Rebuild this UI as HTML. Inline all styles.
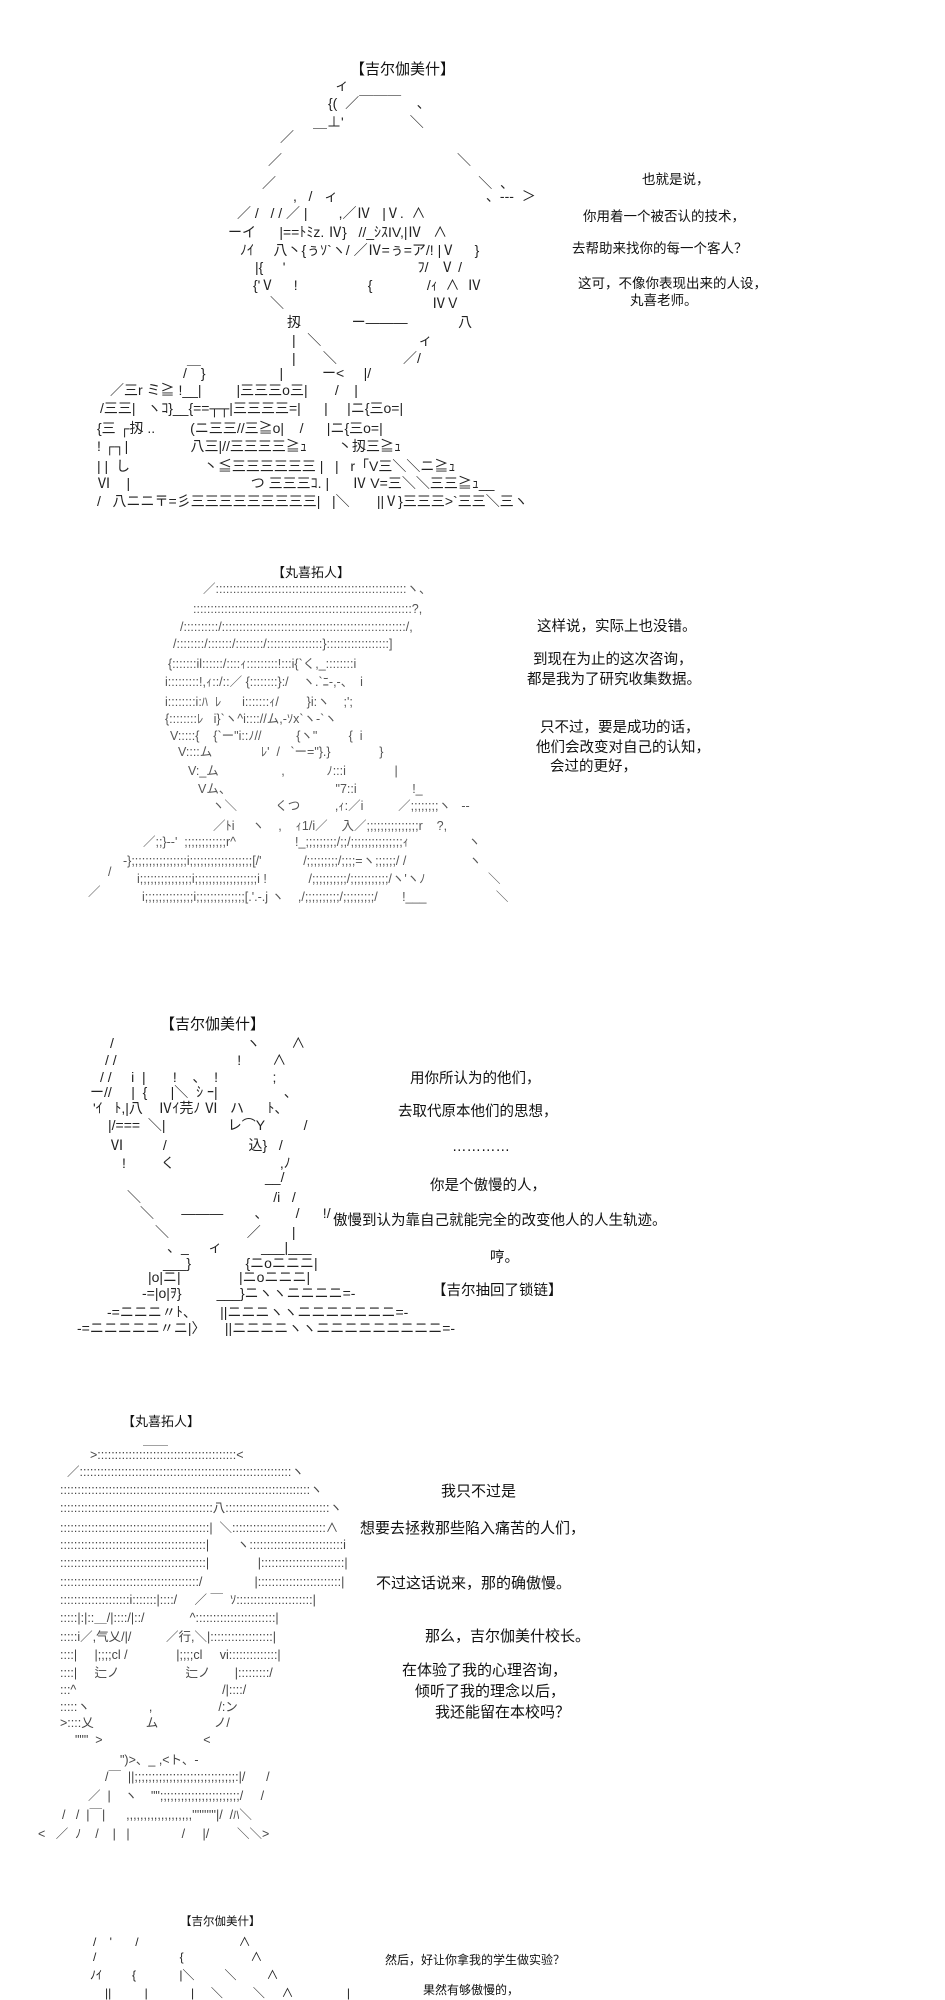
<!DOCTYPE html>
<html><head><meta charset="utf-8">
<style>
html,body{margin:0;padding:0;background:#fff;}
body{width:945px;height:2000px;position:relative;overflow:hidden;color:#111;
font-family:"Liberation Sans","Noto Sans CJK SC","Noto Sans CJK JP",sans-serif;}
.l{position:absolute;white-space:pre;line-height:1;}
.a{font-family:"Liberation Sans","Noto Sans CJK JP",sans-serif;color:#222;}
.s1{font-size:14px}.s2{font-size:12.5px;color:#555}.s3{font-size:14px}.s4{font-size:12.5px;color:#444}.s5{font-size:12px}
.d{font-family:"Liberation Sans","Noto Sans CJK SC",sans-serif;color:#111}
</style></head><body>

<!-- Section 1 -->
<div class="l d" style="left:350px;top:62px;font-size:15px">【吉尔伽美什】</div>
<div class="l a s1" style="left:335px;top:78px">ィ</div>
<div class="l a s1" style="left:328px;top:96px">{(  ／￣￣￣    、</div>
<div class="l a s1" style="left:313px;top:115px">＿⊥'                 ＼</div>
<div class="l a s1" style="left:280px;top:130px">／</div>
<div class="l a s1" style="left:268px;top:153px">／                                             ＼</div>
<div class="l a s1" style="left:262px;top:176px">／                                                    ＼  、</div>
<div class="l a s1" style="left:293px;top:189px">,   /   ィ                                      、---  ＞</div>
<div class="l a s1" style="left:237px;top:206px">／ /   / / ／ |        ,／Ⅳ   |Ⅴ.  ∧</div>
<div class="l a s1" style="left:228px;top:225px">ーイ      |==ﾄﾐz. Ⅳ}   //_ｼｽIV,|Ⅳ   ∧</div>
<div class="l a s1" style="left:240px;top:243px">ﾉｲ     八丶{ぅｿ`ヽ/ ／Ⅳ=ぅ=ア/! |Ⅴ     }</div>
<div class="l a s1" style="left:255px;top:260px">|{     '                                  ﾌ/   Ⅴ /</div>
<div class="l a s1" style="left:253px;top:278px">{'Ⅴ     !                  {              /ｨ  ∧  Ⅳ</div>
<div class="l a s1" style="left:270px;top:296px">＼                                      ⅣＶ</div>
<div class="l a s1" style="left:287px;top:315px">扨             ー―――             八</div>
<div class="l a s1" style="left:292px;top:333px">|   ＼                         ィ</div>
<div class="l a s1" style="left:292px;top:351px">|       ＼                 ／/</div>
<div class="l a s1" style="left:183px;top:366px">/￣}                   |          ー&lt;     |/</div>
<div class="l a s1" style="left:110px;top:383px">／三r ミ≧ !__|         |三三三o三|       /    |</div>
<div class="l a s1" style="left:100px;top:401px">/三三|   ヽｺ}__{==┬┬|三三三三=|      |     |ニ{三o=|</div>
<div class="l a s1" style="left:97px;top:421px">{三 ┌扨 ..         (ニ三三//三≧o|    /      |ニ{三o=|</div>
<div class="l a s1" style="left:97px;top:439px">! ┌┐|                八三|//三三三三≧ｭ        丶扨三≧ｭ</div>
<div class="l a s1" style="left:97px;top:459px">| |  し                   丶≦三三三三三三 |   |   r「V三＼＼ニ≧ｭ</div>
<div class="l a s1" style="left:97px;top:476px">Ⅵ    |                               つ 三三三ｺ. |      Ⅳ V=三＼＼三三≧ｭ__</div>
<div class="l a s1" style="left:97px;top:494px">/   八ニニ〒=彡三三三三三三三三三|   |＼       ||Ⅴ}三三三&gt;`三三＼三ヽ</div>

<div class="l d" style="left:642px;top:173px;font-size:13.5px">也就是说，</div>
<div class="l d" style="left:583px;top:210px;font-size:13.5px">你用着一个被否认的技术，</div>
<div class="l d" style="left:572px;top:242px;font-size:13.5px">去帮助来找你的每一个客人？</div>
<div class="l d" style="left:578px;top:277px;font-size:13.5px">这可，不像你表现出来的人设，</div>
<div class="l d" style="left:630px;top:294px;font-size:13.5px">丸喜老师。</div>

<!-- Section 2 -->
<div class="l d" style="left:272px;top:566px;font-size:13px">【丸喜拓人】</div>
<div class="l a s2" style="left:203px;top:583px">／:::::::::::::::::::::::::::::::::::::::::::::::::::::::ヽ、</div>
<div class="l a s2" style="left:193px;top:603px">:::::::::::::::::::::::::::::::::::::::::::::::::::::::::::::::?,</div>
<div class="l a s2" style="left:180px;top:621px">/::::::::::/:::::::::::::::::::::::::::::::::::::::::::::::::::::/,</div>
<div class="l a s2" style="left:173px;top:638px">/::::::::/:::::::/::::::::/::::::::::::::::}::::::::::::::::::]</div>
<div class="l a s2" style="left:168px;top:658px">{:::::::il::::::/::::ｨ:::::::::!:::i{`く,_::::::::i</div>
<div class="l a s2" style="left:165px;top:676px">i:::::::::!,ｨ::/::／ {::::::::}:/    ヽ.`ﾆ-,-、  i</div>
<div class="l a s2" style="left:165px;top:696px">i::::::::i:ﾊ  ﾚ      i:::::::ｨ/        }i:ヽ    ;';</div>
<div class="l a s2" style="left:165px;top:713px">{::::::::ﾚ   i}`ヽ^i:::://ム,-ｿx`ヽ-`ヽ</div>
<div class="l a s2" style="left:170px;top:730px">V:::::{    {`ー"i::ﾉ//          {ヽ"         {  i</div>
<div class="l a s2" style="left:178px;top:746px">V::::ム              ﾚ'  /   `ー="}.}              }</div>
<div class="l a s2" style="left:188px;top:765px">V:_ム                  ,            ﾉ:::i              |</div>
<div class="l a s2" style="left:198px;top:783px">Vム、                              "7::i                !_</div>
<div class="l a s2" style="left:212px;top:800px">ヽ＼           くつ          ,ｨ:／i          ／;;;;;;;;ヽ   --</div>
<div class="l a s2" style="left:213px;top:820px">／ﾄi     ヽ    ,    ｨ1/i／    入／;;;;;;;;;;;;;;;r    ?,</div>
<div class="l a s2" style="left:143px;top:836px">／;;}--'  ;;;;;;;;;;;;r^                 !_;;;;;;;;;/;;/;;;;;;;;;;;;;;;ｨ                 ヽ</div>
<div class="l a s2" style="left:123px;top:855px">-};;;;;;;;;;;;;;;;i;;;;;;;;;;;;;;;;;;[/'            /;;;;;;;;;/;;;;=ヽ;;;;;;/ /                  ヽ</div>
<div class="l a s2" style="left:137px;top:873px">i;;;;;;;;;;;;;;;i;;;;;;;;;;;;;;;;;;i !            /;;;;;;;;;;/;;;;;;;;;;;/ヽ'ヽﾉ                  ＼</div>
<div class="l a s2" style="left:142px;top:891px">i;;;;;;;;;;;;;;i;;;;;;;;;;;;;;[.'.-.j ヽ    ,/;;;;;;;;;;/;;;;;;;;;/       !___                    ＼</div>
<div class="l a s2" style="left:108px;top:866px">/</div>
<div class="l a s2" style="left:88px;top:886px">／</div>

<div class="l d" style="left:537px;top:620px;font-size:14.5px">这样说，实际上也没错。</div>
<div class="l d" style="left:533px;top:653px;font-size:14.5px">到现在为止的这次咨询，</div>
<div class="l d" style="left:527px;top:673px;font-size:14.5px">都是我为了研究收集数据。</div>
<div class="l d" style="left:540px;top:721px;font-size:14.5px">只不过，要是成功的话，</div>
<div class="l d" style="left:536px;top:741px;font-size:14.5px">他们会改变对自己的认知，</div>
<div class="l d" style="left:550px;top:760px;font-size:14.5px">会过的更好，</div>

<!-- Section 3 -->
<div class="l d" style="left:160px;top:1017px;font-size:15px">【吉尔伽美什】</div>
<div class="l a s3" style="left:110px;top:1036px">/                                  ヽ        ∧</div>
<div class="l a s3" style="left:105px;top:1053px">/ /                               !        ∧</div>
<div class="l a s3" style="left:100px;top:1070px">/ /     i  |       !    、  !              ;</div>
<div class="l a s3" style="left:90px;top:1085px">ー//     |  {      |＼  ｼ ｰ|                 、</div>
<div class="l a s3" style="left:93px;top:1101px">'ｲ   ﾄ,|八    Ⅳｲ芫ﾉ Ⅵ   ハ      ﾄ、</div>
<div class="l a s3" style="left:108px;top:1118px">|/===  ＼|                レ⌒Y          /</div>
<div class="l a s3" style="left:110px;top:1138px">Ⅵ          /                     込}   /</div>
<div class="l a s3" style="left:122px;top:1156px">!         く                           ,ﾉ</div>
<div class="l a s3" style="left:265px;top:1170px">__/</div>
<div class="l a s3" style="left:127px;top:1190px">＼                                  /i   /</div>
<div class="l a s3" style="left:140px;top:1206px">＼       ―――        、       /      !/</div>
<div class="l a s3" style="left:155px;top:1225px">＼                    ／        |</div>
<div class="l a s3" style="left:167px;top:1240px">、_     ィ          ___|___</div>
<div class="l a s3" style="left:163px;top:1256px">___}              {ニoニニニ|</div>
<div class="l a s3" style="left:148px;top:1270px">|o|ニ|               |ニoニニニ|</div>
<div class="l a s3" style="left:142px;top:1286px">-=|o|ｦ}         ___}ニヽヽニニニニ=-</div>
<div class="l a s3" style="left:107px;top:1305px">-=ニニニ〃ﾄ、      ||ニニニヽヽニニニニニニニ=-</div>
<div class="l a s3" style="left:77px;top:1321px">-=ニニニニニ〃ニ|〉     ||ニニニニヽヽニニニニニニニニニ=-</div>

<div class="l d" style="left:410px;top:1072px;font-size:14.5px">用你所认为的他们，</div>
<div class="l d" style="left:398px;top:1105px;font-size:14.5px">去取代原本他们的思想，</div>
<div class="l d" style="left:452px;top:1140px;font-size:14.5px">…………</div>
<div class="l d" style="left:430px;top:1179px;font-size:14.5px">你是个傲慢的人，</div>
<div class="l d" style="left:333px;top:1214px;font-size:14.5px">傲慢到认为靠自己就能完全的改变他人的人生轨迹。</div>
<div class="l d" style="left:490px;top:1251px;font-size:14.5px">哼。</div>
<div class="l d" style="left:432px;top:1284px;font-size:14.5px">【吉尔抽回了锁链】</div>

<!-- Section 4 -->
<div class="l d" style="left:122px;top:1415px;font-size:13px">【丸喜拓人】</div>
<div class="l a s4" style="left:143px;top:1434px">＿＿</div>
<div class="l a s4" style="left:90px;top:1449px">&gt;::::::::::::::::::::::::::::::::::::::::&lt;</div>
<div class="l a s4" style="left:67px;top:1466px">／:::::::::::::::::::::::::::::::::::::::::::::::::::::::::::::ヽ</div>
<div class="l a s4" style="left:60px;top:1484px">::::::::::::::::::::::::::::::::::::::::::::::::::::::::::::::::::::::::ヽ</div>
<div class="l a s4" style="left:60px;top:1502px">::::::::::::::::::::::::::::::::::::::::::::八::::::::::::::::::::::::::::::ヽ</div>
<div class="l a s4" style="left:60px;top:1522px">:::::::::::::::::::::::::::::::::::::::::::|  ＼:::::::::::::::::::::::::::∧</div>
<div class="l a s4" style="left:60px;top:1539px">::::::::::::::::::::::::::::::::::::::::::|        ヽ:::::::::::::::::::::::::::i</div>
<div class="l a s4" style="left:60px;top:1557px">::::::::::::::::::::::::::::::::::::::::::|              |::::::::::::::::::::::::|</div>
<div class="l a s4" style="left:60px;top:1576px">::::::::::::::::::::::::::::::::::::::::/               |::::::::::::::::::::::::|</div>
<div class="l a s4" style="left:60px;top:1594px">::::::::::::::::::::i:::::::|::::/     ／ ￣  ｿ::::::::::::::::::::::|</div>
<div class="l a s4" style="left:60px;top:1612px">:::::|:|::＿/|::::/|::/             ^:::::::::::::::::::::::|</div>
<div class="l a s4" style="left:60px;top:1631px">:::::i／,气乂/|/          ／行,＼|::::::::::::::::::|</div>
<div class="l a s4" style="left:60px;top:1649px">::::|     |;;;;cl /              |;;;;cl     vi::::::::::::::|</div>
<div class="l a s4" style="left:60px;top:1667px">::::|     辷ノ                   辷ノ       |:::::::::/</div>
<div class="l a s4" style="left:60px;top:1684px">:::^                                          /|::::/</div>
<div class="l a s4" style="left:60px;top:1701px">:::::ヽ                 ,                   /:ン</div>
<div class="l a s4" style="left:60px;top:1717px">&gt;::::乂               ム                ノ/</div>
<div class="l a s4" style="left:75px;top:1734px">"""  &gt;                             &lt;</div>
<div class="l a s4" style="left:120px;top:1754px">")&gt;、_ ,&lt;ト、-</div>
<div class="l a s4" style="left:105px;top:1771px">/￣  ||;;;;;;;;;;;;;;;;;;;;;;;;;;;;;:|/      /</div>
<div class="l a s4" style="left:88px;top:1790px">／  |    ヽ    "";;;;;;;;;;;;;;;;;;;;;;;/     /</div>
<div class="l a s4" style="left:62px;top:1809px">/   /  |￣|      ,,,,,,,,,,,,,,,,,,,''''''''''|/  /ﾊ＼</div>
<div class="l a s4" style="left:38px;top:1828px">&lt;   ／  ﾉ    /    |   |               /     |/        ＼＼&gt;</div>

<div class="l d" style="left:441px;top:1484px;font-size:15px">我只不过是</div>
<div class="l d" style="left:360px;top:1521px;font-size:15px">想要去拯救那些陷入痛苦的人们，</div>
<div class="l d" style="left:376px;top:1576px;font-size:15px">不过这话说来，那的确傲慢。</div>
<div class="l d" style="left:425px;top:1629px;font-size:15px">那么，吉尔伽美什校长。</div>
<div class="l d" style="left:402px;top:1663px;font-size:15px">在体验了我的心理咨询，</div>
<div class="l d" style="left:415px;top:1684px;font-size:15px">倾听了我的理念以后，</div>
<div class="l d" style="left:435px;top:1705px;font-size:15px">我还能留在本校吗？</div>

<!-- Section 5 -->
<div class="l d" style="left:180px;top:1917px;font-size:11.5px">【吉尔伽美什】</div>
<div class="l a s5" style="left:93px;top:1936px">/    '       /                              ∧</div>
<div class="l a s5" style="left:93px;top:1951px">/                         {                    ∧</div>
<div class="l a s5" style="left:90px;top:1969px">ﾉｲ         {             |＼         ＼         ∧</div>
<div class="l a s5" style="left:105px;top:1987px">||          |             |     ＼         ＼     ∧                |</div>

<div class="l d" style="left:385px;top:1954px;font-size:12px">然后，好让你拿我的学生做实验？</div>
<div class="l d" style="left:423px;top:1984px;font-size:12px">果然有够傲慢的，</div>

</body></html>
